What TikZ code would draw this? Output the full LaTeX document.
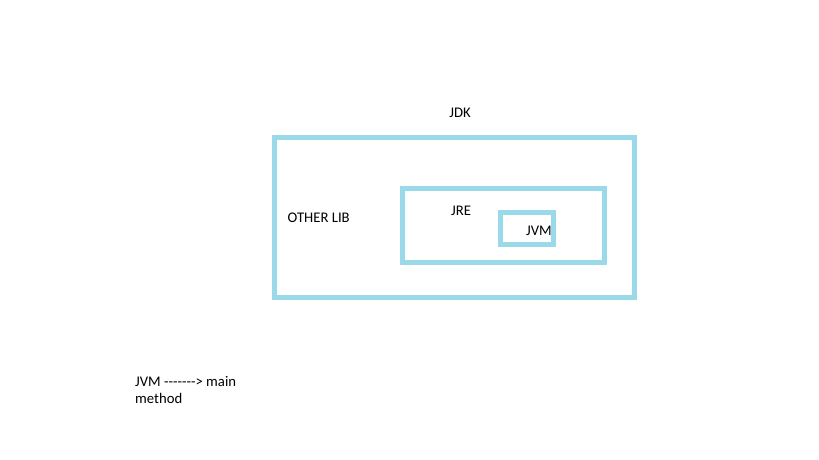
\documentclass[tikz,border=0pt]{standalone}
\usepackage{fontspec}
\setmainfont{Carlito}[Ligatures=TeXOff]
\usepackage{tikz}
\usetikzlibrary{positioning}
\definecolor{boxblue}{RGB}{153,217,234}

\begin{document}
\begin{tikzpicture}[x=1pt,y=-1pt]
    \tikzstyle{every node}=[font=\fontsize{14.7}{17}\selectfont, text=black]
    \tikzstyle{box}=[draw=boxblue, line width=5pt, inner sep=0pt]
    \tikzstyle{lbl}=[inner sep=0pt]
    \useasboundingbox (0,0) rectangle (819,460);
    % nested boxes
    \node [box, minimum width=360pt, minimum height=160pt] (jdk) at (454,217.5) {};
    \node [box, minimum width=201.5pt, minimum height=73.5pt] (jre) at (503.25,225.25) {};
    \node [box, minimum width=53.5pt, minimum height=31.5pt] (jvm) at (526.75,228.25) {};
    % labels
    \node [lbl] (jdklbl) at (460,112.7) {JDK};
    \node [lbl, anchor=west] (otherlib) at (287.5,218) {OTHER LIB};
    \node [lbl] (jrelbl) at (461,210.7) {JRE};
    \node [lbl, anchor=west] (jvmlbl) at (526,231) {JVM};
    % note
    \node [lbl, anchor=west, align=left] (note) at (135,390) {JVM -------> main\\method};
\end{tikzpicture}
\end{document}
